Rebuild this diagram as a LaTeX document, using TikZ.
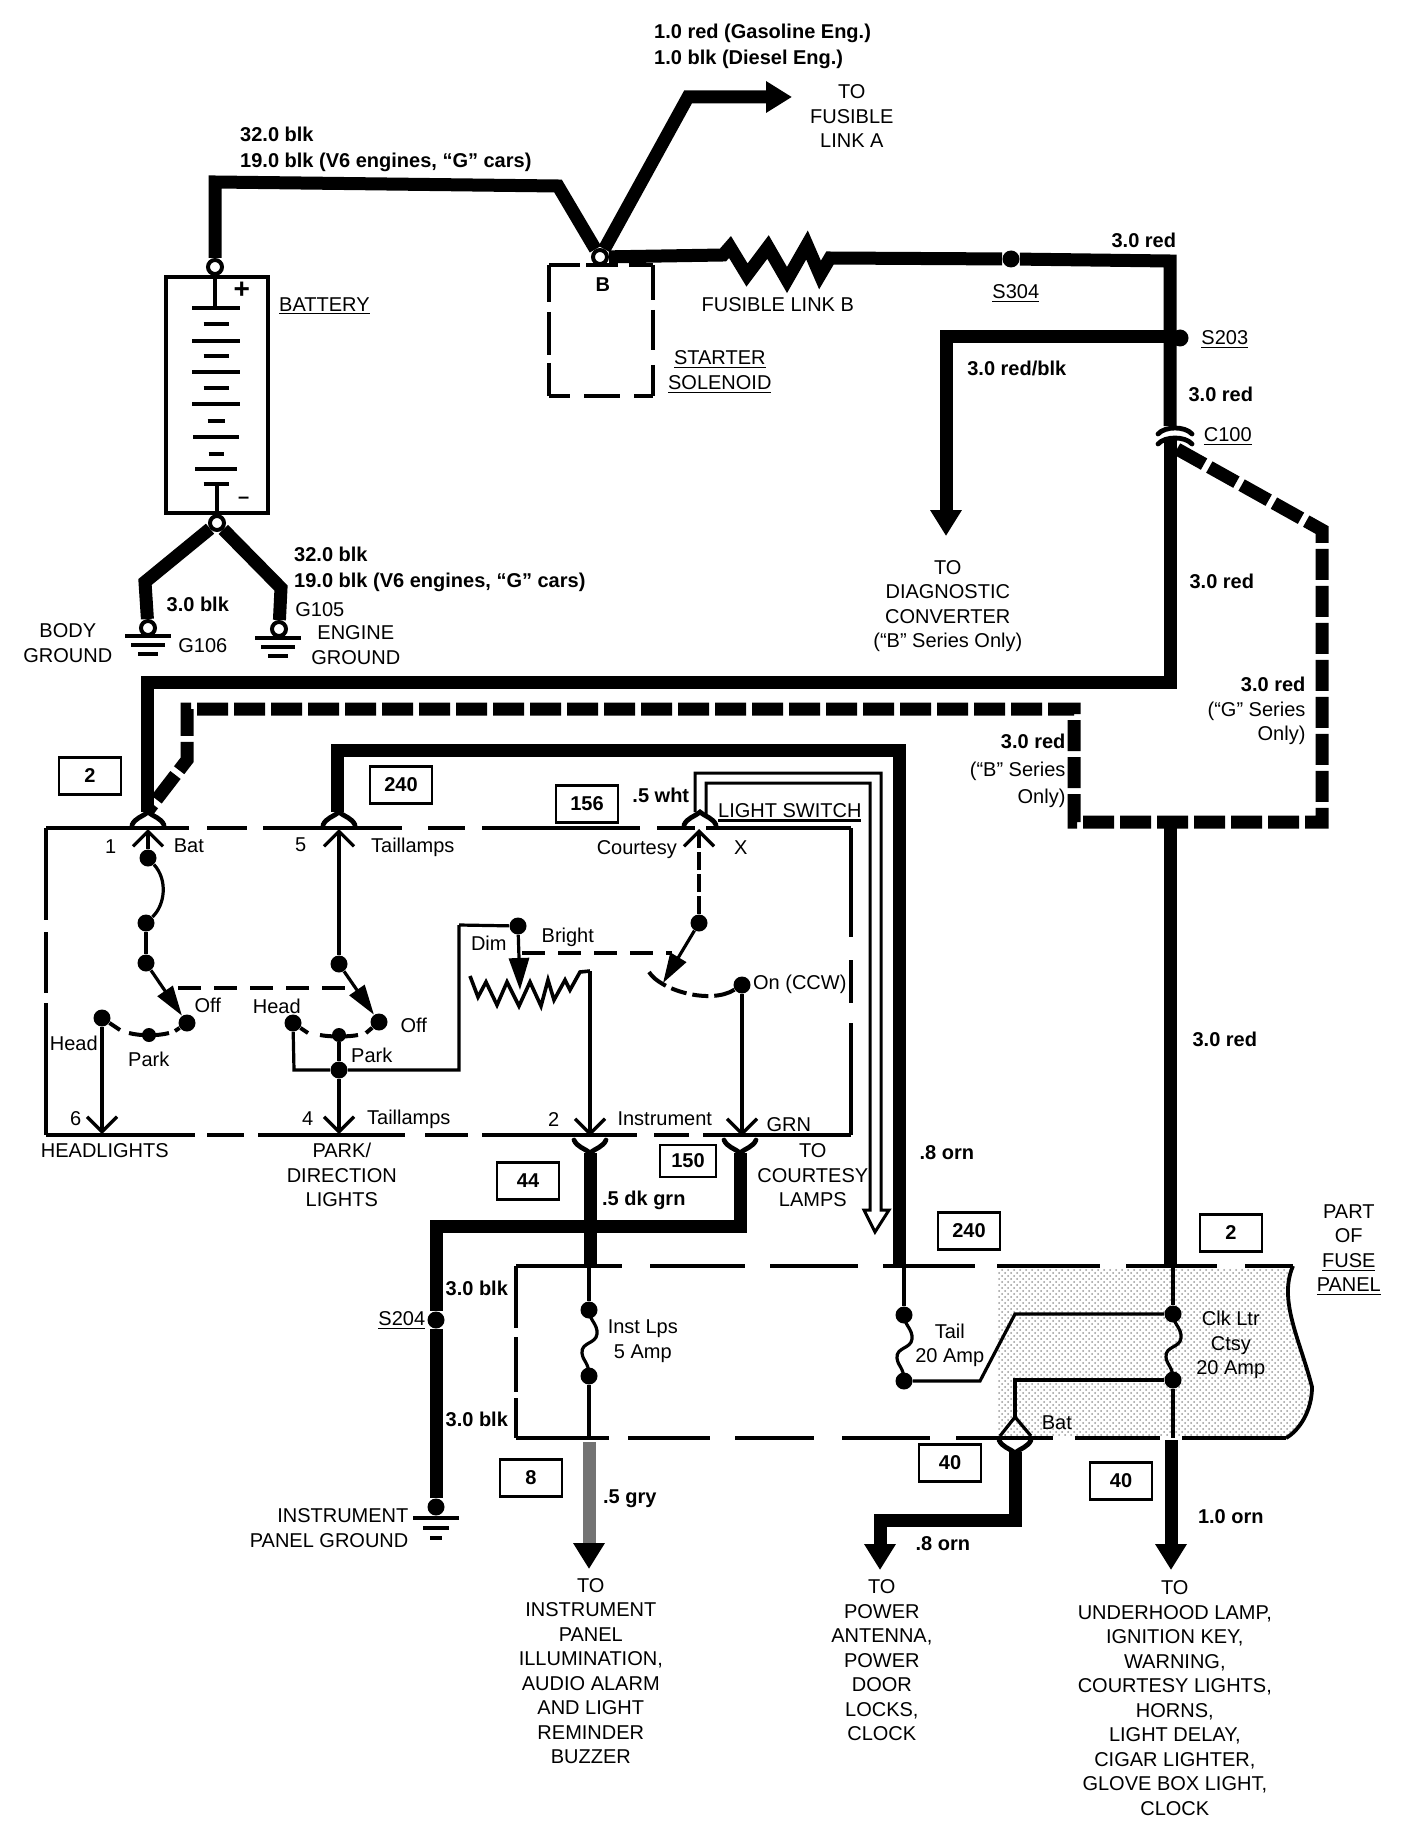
\documentclass[tikz,border=0pt]{standalone}
\usepackage{fontspec}
\setmainfont{Liberation Sans}
\usetikzlibrary{arrows.meta,patterns}

\tikzset{
  wire/.style={line width=6.5pt,line join=miter},
  dashwire/.style={wire,dash pattern=on 15.5pt off 3pt},
  wirearrow/.style={wire,-{Triangle[length=13pt,width=15pt,black]}},
  thinwire/.style={line width=1.6pt},
  pin/.style={thinwire,-{Straight Barb[length=7.5pt,width=15pt]}},
  swline/.style={thinwire,-{Triangle[length=15pt,width=9pt]}},
  linkline/.style={line width=2pt,dash pattern=on 11.5pt off 6.5pt},
  boxline/.style={line width=1.9pt},
  forkline/.style={line width=2.4pt,line cap=round},
  ring/.style={circle,draw,fill=white,line width=2pt,minimum size=7pt,inner sep=0pt},
  dot/.style={circle,fill=black,minimum size=8.5pt,inner sep=0pt},
  lbl/.style={inner sep=0pt,xshift=0.4pt,yshift=-0.6pt,font=\fontsize{10}{12.25}\selectfont,align=center},
  blbl/.style={lbl,font=\fontsize{10}{12.25}\selectfont\bfseries},
  numbox/.style={draw,line width=1.2pt,minimum width=31pt,minimum height=18.5pt,inner sep=0pt,font=\fontsize{10}{12}\selectfont\bfseries},
  forkdn/.pic={\draw[forkline] (-16,10) .. controls (-13,3) and (-6,2) .. (0,-3) .. controls (6,2) and (13,3) .. (16,10);},
  fuselink/.pic={\draw[thinwire] (0,0) .. controls (0,10) and (9,14) .. (8,24) .. controls (7,34) and (-8,32) .. (-7,43) .. controls (-6,52) and (0,52) .. (0,66);},
}

\begin{document}
\begin{tikzpicture}[x=0.5pt,y=-0.5pt]
\useasboundingbox (0,0) rectangle (1408,1840);

% battery and grounds
\node (batt)[draw,line width=2.2pt,minimum width=51pt,minimum height=118pt,inner sep=0pt] at (217,395) {};
\node (cbat)[ring] at (215,267) {};
\node (cneg)[ring] at (217,523) {};
\node (csol)[ring] at (600,257) {};
\node (cg106)[ring] at (148,628) {};
\node (cg105)[ring] at (279,629) {};
\foreach \y/\w in {308/48,324/25,341/48,356/25,372/48,388/25,404/48,421/17,437/46,454/15,469/42,484/25}
  \draw[line width=1.6pt] (216-\w/2,\y) -- (216+\w/2,\y);
\draw[line width=1.6pt] (cbat) -- (215,308);
\draw[line width=1.6pt] (217,484) -- (cneg);
\coordinate (gl1) at (145,582);
\coordinate (gr1) at (281,588);
\draw[wire] (cneg) -- (gl1) -- (cg106);
\draw[wire] (cneg) -- (gr1) -- (cg105);
\foreach \x/\y in {148/636,278/638} {
  \draw[line width=1.6pt] (\x-23,\y) -- (\x+23,\y);
  \draw[line width=2pt] (\x-17,\y+9) -- (\x+17,\y+9);
  \draw[line width=2pt] (\x-10,\y+18) -- (\x+10,\y+18);
}

% starter solenoid
\foreach \a/\b in {549/580,586/618,629/653}
  \draw[boxline] (\a,265) -- (\b,265);
\foreach \a/\b in {549/570,584/620,634/653}
  \draw[boxline] (\a,396) -- (\b,396);
\foreach \a/\b in {265/302,312/355,363/396}
  \draw[boxline] (549,\a) -- (549,\b);
\foreach \a/\b in {265/300,310/350,365/396}
  \draw[boxline] (653,\a) -- (653,\b);

% main feed
\coordinate (a1) at (215,182);
\coordinate (a2) at (558,186);
\coordinate (a3) at (688,97);
\coordinate (a4) at (792,97);
\draw[wire] (cbat) -- (a1) -- (a2) -- (csol);
\draw[wirearrow] (csol) -- (a3) -- (a4);
\node (s304)[dot] at (1011,259) {};
\node (s203)[dot] at (1180,338) {};
\coordinate (b1) at (1170,261);
\coordinate (b2) at (1170,337);
\coordinate (b3) at (946,337);
\coordinate (b4) at (946,536);
\coordinate (c100up) at (1170,426);
\coordinate (c100dn) at (1170,438);
\draw[wire] (csol) -- (723,255) -- (730,247) -- (747,275) -- (768,247) -- (787,280) -- (807,245) -- (820,275) -- (830,258) -- (s304) -- (b1) -- (b2) -- (c100up);
\draw[wirearrow] (b2) -- (b3) -- (b4);
\draw[forkline] (1158,434) .. controls (1165,426) and (1185,426) .. (1192,434);
\draw[forkline] (1158,444) .. controls (1165,436) and (1185,436) .. (1192,444);

% feeds to the switch
\coordinate (c1) at (1170,682);
\coordinate (c2) at (147,682);
\coordinate (c3) at (147,812);
\draw[wire] (c100dn) -- (c1) -- (c2) -- (c3);
\coordinate (d1) at (1177,449);
\coordinate (d2) at (1322,530);
\coordinate (d3) at (1322,822);
\coordinate (d4) at (1074,822);
\coordinate (d5) at (1074,709);
\coordinate (d6) at (187,709);
\coordinate (d7) at (187,760);
\draw[dashwire] (d1) -- (d2) -- (d3) -- (d4) -- (d5) -- (d6) -- (d7) -- (c3);
\coordinate (e1) at (337,812);
\coordinate (e2) at (337,750);
\coordinate (e3) at (899,750);
\coordinate (e4) at (899,1266);
\draw[wire] (e1) -- (e2) -- (e3) -- (e4);
\coordinate (e5) at (1170,822);
\coordinate (e6) at (1170,1266);
\draw[wire] (e5) -- (e6);

% white wire to the courtesy lamps
\draw[line width=1.5pt,fill=white] (695,812) |- (881,773) -- (881,1210) -- (889,1210) -- (875,1232) -- (864,1210) -- (870,1210) |- (706,783) -- (706,815);

% light switch outline
\foreach \a/\b in {46/189,207/247,263/402,428/465,482/640,657/695,706/851}
  \draw[boxline] (\a,828) -- (\b,828);
\foreach \a/\b in {46/195,207/244,258/405,425/468,482/637,654/689,703/851}
  \draw[boxline] (\a,1135) -- (\b,1135);
\foreach \a/\b in {828/920,932/993,1003/1135}
  \draw[boxline] (46,\a) -- (46,\b);
\foreach \a/\b in {828/937,960/1003,1023/1135}
  \draw[boxline] (851,\a) -- (851,\b);
\draw[line width=1.5pt] (718,820) -- (861,820);
\pic at (148,815) {forkdn};
\pic at (339,815) {forkdn};
\pic at (700,815) {forkdn};
\pic[yscale=-1] at (590,1150) {forkdn};
\pic[yscale=-1] at (740,1150) {forkdn};

% headlamp section
\node (d1a)[dot] at (148,858) {};
\node (d1b)[dot] at (146,923) {};
\node (d1c)[dot] at (146,963) {};
\node (off1)[dot] at (187,1023) {};
\node (head1)[dot] at (102,1018) {};
\node (park1)[dot,minimum size=7pt] at (149,1035) {};
\coordinate (p1) at (148,829);
\coordinate (p6) at (102,1134);
\draw[pin] (d1a) -- (p1);
\draw[thinwire] (d1a) .. controls (168,880) and (165,905) .. (d1b);
\draw[thinwire] (d1b) -- (d1c);
\draw[swline] (d1c) -- (off1);
\draw[pin] (head1) -- (p6);
\draw[line width=2pt] (head1) -- (120,1030);
\draw[line width=2pt] (129,1033) .. controls (140,1036) and (158,1036) .. (169,1033);
\draw[line width=2pt] (175,1031) -- (off1);

% park section
\node (d2a)[dot] at (339,964) {};
\node (off2)[dot] at (379,1022) {};
\node (head2)[dot] at (293,1023) {};
\node (park2)[dot,minimum size=7pt] at (339,1035) {};
\node (d2b)[dot] at (339,1070) {};
\coordinate (p5) at (339,829);
\coordinate (p4) at (339,1134);
\coordinate (g1) at (294,1070);
\coordinate (g2) at (459,1070);
\coordinate (g3) at (459,925);
\draw[pin] (d2a) -- (p5);
\draw[swline] (d2a) -- (off2);
\draw[line width=2pt] (head2) -- (308,1033);
\draw[line width=2pt] (320,1035) .. controls (330,1037) and (348,1037) .. (358,1035);
\draw[line width=2pt] (366,1033) -- (off2);
\draw[thinwire] (park2) -- (d2b);
\draw[pin] (d2b) -- (p4);
\draw[thinwire] (head2) -- (g1) -- (d2b) -- (g2) -- (g3);
\draw[linkline] (178,988) -- (356,988);

% dimmer
\node (bright)[dot] at (518,926) {};
\coordinate (wiper) at (520,990);
\coordinate (r1) at (590,971);
\coordinate (p2) at (590,1136);
\draw[thinwire] (g3) -- (bright);
\draw[thinwire,-{Triangle[length=16pt,width=10pt]}] (bright) -- (wiper);
\draw[thinwire,line width=1.8pt] (470,976) -- (478,997) -- (486,982) -- (497,1005) -- (507,982) -- (519,1006) -- (530,982) -- (541,1006) -- (548,980) -- (554,1000) -- (565,980) -- (570,990) -- (580,972) -- (r1);
\draw[pin] (r1) -- (p2);
\draw[linkline] (522,953) -- (672,953);

% courtesy section
\node (d3a)[dot] at (699,923) {};
\node (oncw)[dot] at (742,985) {};
\coordinate (p3) at (699,829);
\coordinate (sw3) at (663,983);
\coordinate (pgrn) at (742,1136);
\draw[thinwire,dash pattern=on 9pt off 2pt,-{Straight Barb[length=7.5pt,width=15pt]}] (d3a) -- (p3);
\draw[swline] (d3a) -- (sw3);
\draw[line width=2pt,dash pattern=on 11pt off 3pt on 8pt off 3pt on 8pt off 3pt] (649,972) .. controls (660,990) and (710,1005) .. (oncw);
\draw[pin] (oncw) -- (pgrn);

% wires down to the fuse panel
\coordinate (h1) at (590,1153);
\coordinate (h2) at (590,1266);
\coordinate (h3) at (740,1153);
\coordinate (h4) at (740,1226);
\coordinate (h5) at (436,1226);
\node (s204)[dot] at (436,1320) {};
\node (gnd)[dot] at (436,1507) {};
\draw[wire] (h1) -- (h2);
\draw[wire] (h3) -- (h4) -- (h5) -- (s204) -- (gnd);
\draw[line width=1.6pt] (413,1518) -- (459,1518);
\draw[line width=2pt] (423,1528) -- (449,1528);
\draw[line width=2pt] (430,1538) -- (442,1538);

% fuse panel
\fill[pattern=crosshatch dots,pattern color=black!40] (997,1268) -- (1293,1268) .. controls (1278,1300) and (1300,1340) .. (1312,1387) .. controls (1312,1410) and (1300,1430) .. (1286,1437) -- (997,1437) -- cycle;
\foreach \a/\b in {516/622,650/745,770/858,883/975,997/1100,1126/1217,1245/1293}
  \draw[boxline] (\a,1266) -- (\b,1266);
\foreach \a/\b in {516/609,628/710,735/814,842/930,956/1053,1075/1160,1182/1286}
  \draw[boxline] (\a,1438) -- (\b,1438);
\foreach \a/\b in {1266/1328,1337/1392,1398/1438}
  \draw[boxline] (516,\a) -- (516,\b);
\draw[boxline] (1293,1266) .. controls (1278,1300) and (1300,1340) .. (1312,1387) .. controls (1312,1410) and (1300,1430) .. (1286,1438);

\node (fi1)[dot] at (589,1310) {};
\node (fi2)[dot] at (589,1376) {};
\node (ft1)[dot] at (904,1315) {};
\node (ft2)[dot] at (904,1381) {};
\node (fc1)[dot] at (1173,1314) {};
\node (fc2)[dot] at (1173,1380) {};
\coordinate (j1) at (589,1266);
\coordinate (j2) at (589,1438);
\coordinate (j3) at (904,1266);
\coordinate (j4) at (980,1381);
\coordinate (j5) at (1015,1314);
\coordinate (j6) at (1173,1266);
\coordinate (j7) at (1173,1438);
\coordinate (j8) at (1015,1380);
\coordinate (j9) at (1015,1417);
\pic at (fi1) {fuselink};
\pic at (ft1) {fuselink};
\pic at (fc1) {fuselink};
\draw[thinwire] (j1) -- (fi1);
\draw[thinwire] (fi2) -- (j2);
\draw[thinwire] (j3) -- (ft1);
\draw[thinwire] (ft2) -- (j4) -- (j5) -- (fc1);
\draw[thinwire] (j6) -- (fc1);
\draw[thinwire] (fc2) -- (j7);
\draw[thinwire] (fc2) -- (j8) -- (j9);
\draw[line width=1.6pt] (1000,1436) -- (j9) -- (1031,1436);
\pic[yscale=-1] at (1015,1450) {forkdn};

% wires leaving the panel
\coordinate (k1) at (589,1442);
\coordinate (k2) at (589,1569);
\coordinate (k3) at (1015,1452);
\coordinate (k4) at (1015,1520);
\coordinate (k5) at (880,1520);
\coordinate (k6) at (880,1570);
\coordinate (k7) at (1171,1440);
\coordinate (k8) at (1171,1570);
\draw[wirearrow,black!55] (k1) -- (k2);
\draw[wirearrow] (k3) -- (k4) -- (k5) -- (k6);
\draw[wirearrow] (k7) -- (k8);

% circuit boxes
\node (bx2a)[numbox] at (90,776) {2};
\node (bx240a)[numbox] at (401,785) {240};
\node (bx156)[numbox] at (587,804) {156};
\node (bx44)[numbox] at (528,1181) {44};
\node (bx150)[numbox,minimum width=28pt,minimum height=16pt] at (688,1161) {150};
\node (bx240b)[numbox] at (969,1231) {240};
\node (bx2b)[numbox] at (1231,1233) {2};
\node (bx8)[numbox] at (531,1478) {8};
\node (bx40a)[numbox] at (950,1463) {40};
\node (bx40b)[numbox] at (1121,1481) {40};

% wire labels
\node (lw1)[blbl,anchor=west,align=left] at (653,45) {1.0 red (Gasoline Eng.)\\[0.8pt]1.0 blk (Diesel Eng.)};
\node (lw2)[blbl,anchor=west,align=left] at (239,148) {32.0 blk\\[0.8pt]19.0 blk (V6 engines, “G” cars)};
\node (lw3)[blbl] at (1143,239) {3.0 red};
\node (lw4)[blbl] at (1016,367) {3.0 red/blk};
\node (lw5)[blbl] at (1220,393) {3.0 red};
\node (lw6)[blbl] at (1221,580) {3.0 red};
\node (lw7)[blbl] at (197,603) {3.0 blk};
\node (lw8)[blbl,anchor=west,align=left] at (293,568) {32.0 blk\\[0.8pt]19.0 blk (V6 engines, “G” cars)};
\node (lw9)[lbl,anchor=east,align=right] at (1305,710) {\textbf{3.0 red}\\(“G” Series\\Only)};
\node (lw10)[lbl,anchor=east,align=right] at (1065,770) {\textbf{3.0 red}\\[1.5pt](“B” Series\\[1.5pt]Only)};
\node (lw11)[blbl] at (660,794) {.5 wht};
\node (lw12)[blbl] at (643,1199) {.5 dk grn};
\node (lw13)[blbl] at (946,1151) {.8 orn};
\node (lw14)[blbl] at (1224,1038) {3.0 red};
\node (lw15)[blbl] at (476,1287) {3.0 blk};
\node (lw16)[blbl] at (476,1418) {3.0 blk};
\node (lw17)[blbl] at (629,1498) {.5 gry};
\node (lw18)[blbl] at (942,1542) {.8 orn};
\node (lw19)[blbl] at (1230,1515) {1.0 orn};

% component labels
\node (lt1)[lbl] at (851,115) {TO\\FUSIBLE\\LINK A};
\node (lt2)[lbl,anchor=west] at (278,305) {\underline{BATTERY}};
\node (lt3)[lbl] at (241,289) {\textbf{\fontsize{14}{14}\selectfont +}};
\node (lt4)[lbl] at (243,499) {\textbf{–}};
\node (lt5)[blbl] at (602,283) {B};
\node (lt6)[lbl] at (777,303) {FUSIBLE LINK B};
\node (lt7)[lbl] at (1015,292) {\underline{S304}};
\node (lt8)[lbl] at (1224,338) {\underline{S203}};
\node (lt9)[lbl] at (1227,435) {\underline{C100}};
\node (lt10)[lbl] at (719,371) {\underline{STARTER}\\\underline{SOLENOID}};
\node (lt11)[lbl] at (947,605) {TO\\DIAGNOSTIC\\CONVERTER\\(“B” Series Only)};
\node (lt12)[lbl] at (319,608) {G105};
\node (lt13)[lbl] at (202,644) {G106};
\node (lt14)[lbl] at (355,644) {ENGINE\\GROUND};
\node (lt15)[lbl] at (67,642) {BODY\\GROUND};

% switch labels
\node (ls1)[lbl] at (789,809) {LIGHT SWITCH};
\node (ls2)[lbl] at (110,845) {1};
\node (ls3)[lbl] at (188,845) {Bat};
\node (ls4)[lbl] at (300,844) {5};
\node (ls5)[lbl] at (412,846) {Taillamps};
\node (ls6)[lbl] at (636,848) {Courtesy};
\node (ls7)[lbl] at (740,846) {X};
\node (ls8)[lbl] at (567,936) {Bright};
\node (ls9)[lbl] at (488,942) {Dim};
\node (ls10)[lbl] at (207,1004) {Off};
\node (ls11)[lbl] at (276,1005) {Head};
\node (ls12)[lbl] at (413,1024) {Off};
\node (ls13)[lbl] at (73,1042) {Head};
\node (ls14)[lbl] at (148,1058) {Park};
\node (ls15)[lbl] at (371,1054) {Park};
\node (ls16)[lbl] at (799,983) {On (CCW)};
\node (ls17)[lbl] at (75,1117) {6};
\node (ls18)[lbl] at (307,1117) {4};
\node (ls19)[lbl] at (408,1118) {Taillamps};
\node (ls20)[lbl] at (553,1118) {2};
\node (ls21)[lbl] at (664,1118) {Instrument};
\node (ls22)[lbl] at (788,1123) {GRN};
\node (ls23)[lbl] at (104,1149) {HEADLIGHTS};
\node (ls24)[lbl] at (341,1174) {PARK/\\DIRECTION\\LIGHTS};
\node (ls25)[lbl] at (812,1174) {TO\\COURTESY\\LAMPS};

% panel labels
\node (lp1)[lbl] at (401,1319) {\underline{S204}};
\node (lp2)[lbl] at (642,1340) {Inst Lps\\5 Amp};
\node (lp3)[lbl] at (949,1344) {Tail\\20 Amp};
\node (lp4)[lbl] at (1230,1344) {Clk Ltr\\Ctsy\\20 Amp};
\node (lp5)[lbl] at (1056,1422) {Bat};
\node (lp6)[lbl] at (1348,1249) {PART\\OF\\\underline{FUSE}\\\underline{PANEL}};
\node (lp7)[lbl,anchor=east,align=right] at (408,1527) {INSTRUMENT\\PANEL GROUND};
\node (lp8)[lbl] at (590,1670) {TO\\INSTRUMENT\\PANEL\\ILLUMINATION,\\AUDIO ALARM\\AND LIGHT\\REMINDER\\BUZZER};
\node (lp9)[lbl] at (881,1659) {TO\\POWER\\ANTENNA,\\POWER\\DOOR\\LOCKS,\\CLOCK};
\node (lp10)[lbl] at (1174,1697) {TO\\UNDERHOOD LAMP,\\IGNITION KEY,\\WARNING,\\COURTESY LIGHTS,\\HORNS,\\LIGHT DELAY,\\CIGAR LIGHTER,\\GLOVE BOX LIGHT,\\CLOCK};
\end{tikzpicture}
\end{document}
